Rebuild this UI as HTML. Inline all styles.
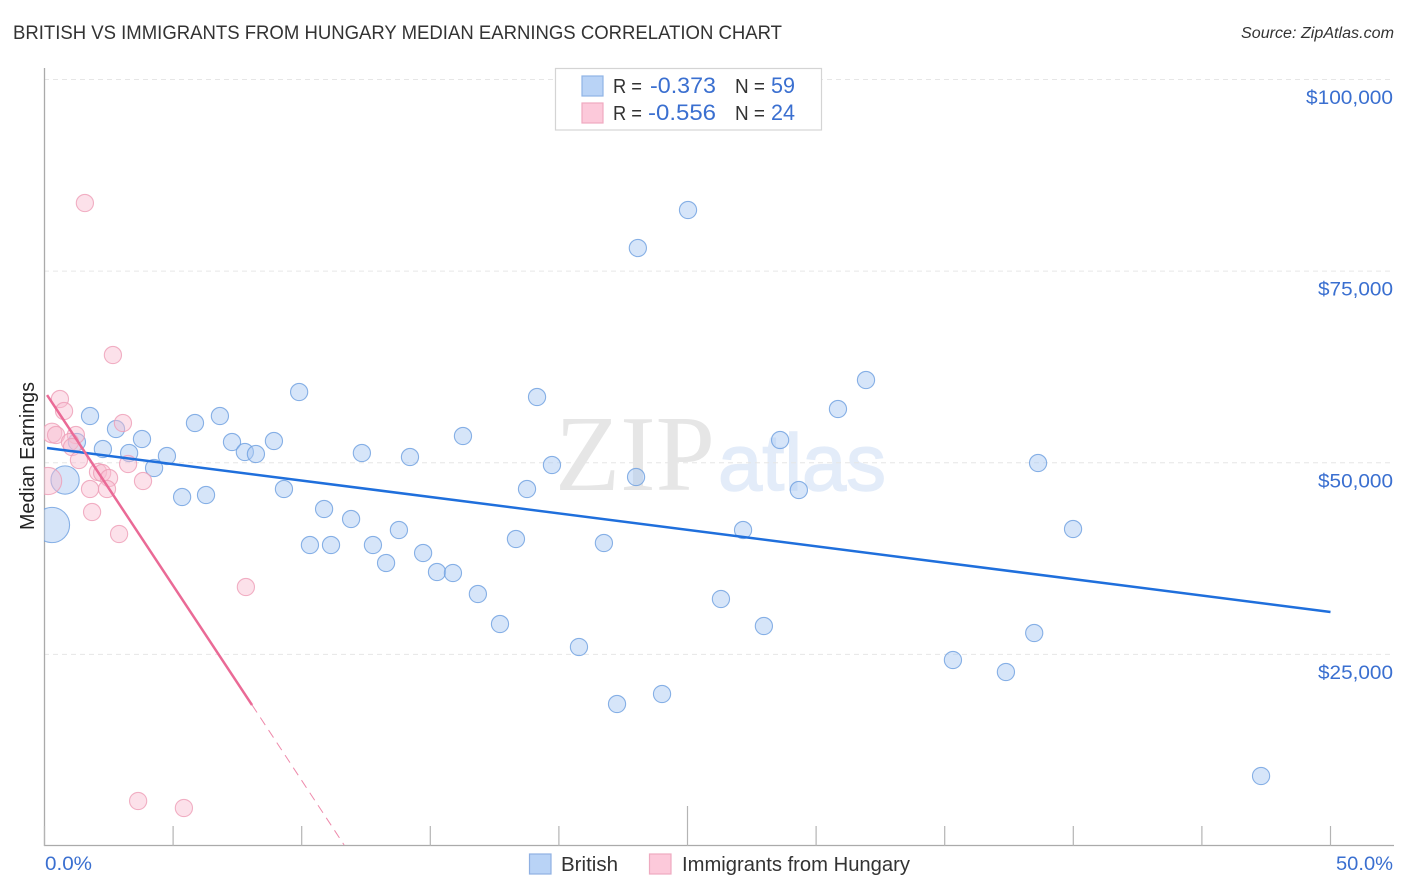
<!DOCTYPE html>
<html lang="en">
<head>
<meta charset="utf-8">
<title>British vs Immigrants from Hungary Median Earnings Correlation Chart</title>
<style>
html,body{margin:0;padding:0;background:#fff;width:1406px;height:892px;overflow:hidden}
svg{display:block;font-family:"Liberation Sans",sans-serif}
</style>
</head>
<body>
<svg id="chart" xmlns="http://www.w3.org/2000/svg" width="1406" height="892" viewBox="0 0 1406 892">
  <defs>
    <clipPath id="plot-clip"><rect x="44" y="60" width="1350" height="786"/></clipPath>
  </defs>
  <text x="13" y="39" font-size="19" fill="#333" textLength="769" lengthAdjust="spacingAndGlyphs">BRITISH VS IMMIGRANTS FROM HUNGARY MEDIAN EARNINGS CORRELATION CHART</text>
  <text x="1394" y="38" font-size="15.5" font-style="italic" fill="#333" text-anchor="end" textLength="153" lengthAdjust="spacingAndGlyphs">Source: ZipAtlas.com</text>

  <g>
    <text x="555" y="490" style="font-family:'Liberation Serif',serif" font-size="108" fill="#e6e6e6" textLength="160" lengthAdjust="spacingAndGlyphs">ZIP</text>
    <text x="718" y="490" style="font-family:'Liberation Sans',sans-serif" font-size="80" fill="#e3ecf9" stroke="#e3ecf9" stroke-width="1.5" textLength="168" lengthAdjust="spacingAndGlyphs">atlas</text>
  </g>

  <g id="grid"></g>
  <g id="axes"></g>
  <g id="marks" clip-path="url(#plot-clip)"></g>
  <g id="ylabels"></g>
  <g id="xlabels"></g>

  <text transform="translate(34,456) rotate(-90)" font-size="20" fill="#222" text-anchor="middle" textLength="148" lengthAdjust="spacingAndGlyphs">Median Earnings</text>

  <g>
    <rect x="555.5" y="68.5" width="266" height="61.5" fill="#fff" stroke="#d4d4d4" stroke-width="1.2"/>
    <rect x="582" y="76" width="21" height="20" fill="#b9d3f6" stroke="#8fb4e6" stroke-width="1.2"/>
    <rect x="582" y="103" width="21" height="20" fill="#fcc9da" stroke="#f0a9c0" stroke-width="1.2"/>
    <text x="613" y="93" font-size="20" fill="#333" textLength="29" lengthAdjust="spacingAndGlyphs">R =</text>
    <text x="650" y="93" font-size="22" fill="#3a6fd0" textLength="66" lengthAdjust="spacingAndGlyphs">-0.373</text>
    <text x="735" y="93" font-size="20" fill="#333" textLength="30" lengthAdjust="spacingAndGlyphs">N =</text>
    <text x="771" y="93" font-size="22" fill="#3a6fd0" textLength="24" lengthAdjust="spacingAndGlyphs">59</text>
    <text x="613" y="120" font-size="20" fill="#333" textLength="29" lengthAdjust="spacingAndGlyphs">R =</text>
    <text x="648" y="120" font-size="22" fill="#3a6fd0" textLength="68" lengthAdjust="spacingAndGlyphs">-0.556</text>
    <text x="735" y="120" font-size="20" fill="#333" textLength="30" lengthAdjust="spacingAndGlyphs">N =</text>
    <text x="771" y="120" font-size="22" fill="#3a6fd0" textLength="24" lengthAdjust="spacingAndGlyphs">24</text>
  </g>

  <g>
    <rect x="529.5" y="854" width="21.5" height="20" fill="#b9d3f6" stroke="#8fb0e2" stroke-width="1.2"/>
    <text x="561" y="871" font-size="20" fill="#333" textLength="57" lengthAdjust="spacingAndGlyphs">British</text>
    <rect x="649.5" y="854" width="21.5" height="20" fill="#fcc9da" stroke="#eeaac0" stroke-width="1.2"/>
    <text x="682" y="871" font-size="20" fill="#333" textLength="228" lengthAdjust="spacingAndGlyphs">Immigrants from Hungary</text>
  </g>
</svg>
<script>
// ---- chart data ----
const yTickValues = [100000, 75000, 50000, 25000];
const yTickLabels = ["$100,000", "$75,000", "$50,000", "$25,000"];
const xTickValues = [0, 5, 10, 15, 20, 25, 30, 35, 40, 45, 50];
const xEndLabels = ["0.0%", "50.0%"];

const britishPct = [0.29,0.80,1.77,1.26,2.27,2.78,3.29,3.79,4.26,4.76,5.35,5.85,6.28,6.82,7.29,7.79,8.22,8.92,9.31,9.90,10.32,10.87,11.14,11.92,12.34,12.77,13.28,13.78,14.21,14.72,15.26,15.88,16.27,16.85,17.71,18.33,18.76,19.15,19.73,20.78,21.75,22.26,23.00,23.07,24.01,25.02,26.30,27.16,27.97,28.60,29.33,30.85,31.94,35.32,37.38,38.48,38.63,39.99,47.30];
const britishEarnings = [41878,47748,56098,52706,51793,54402,51271,53097,49314,50879,45531,55185,45791,56098,52706,51401,51140,52836,46574,59229,39268,43965,39268,42660,51271,39268,36920,41225,50749,38225,35746,35616,53489,32876,28962,40051,46574,58577,49705,25962,39529,18525,48140,78015,19830,82973,32224,41225,28701,52967,46444,57011,60794,24266,22700,27788,49966,41356,9132];
const britishWeights = [4.2,2.7,1,1,1,1,1,1,1,1,1,1,1,1,1,1,1,1,1,1,1,1,1,1,1,1,1,1,1,1,1,1,1,1,1,1,1,1,1,1,1,1,1,1,1,1,1,1,1,1,1,1,1,1,1,1,1,1,1];

const hungaryPct = [0.14,1.57,2.66,0.60,0.76,0.29,0.45,1.22,0.99,1.07,1.34,3.05,3.25,2.08,2.24,2.51,1.77,2.43,1.85,3.83,2.90,7.83,3.64,5.42];
const hungaryEarnings = [47618,83886,64056,58316,56750,53880,53619,53619,52706,52054,50358,55185,49836,48792,48662,48009,46574,46574,43574,47618,40704,33789,5871,4957];
const hungaryWeights = [2.5,1,1,1,1,1.3,1,1,1,1,1,1,1,1,1,1,1,1,1,1,1,1,1,1];

const britishTrendPct = [0.1, 50];
const britishTrendEarnings = [51923, 30528];
const hungaryTrendPct = [0.1, 8.07];
const hungaryTrendEarnings = [58838, 18395];
const hungaryExtensionPct = [8.07, 11.65];
const hungaryExtensionEarnings = [18395, 130];

// ---- axis functions ----
const NS = "http://www.w3.org/2000/svg";
function xScale(p) { return 44.5 + p * 25.72; }
function yScale(v) { return 846 - v * 766.5 / 100000; }
function rScale(w) { return 8.6 * Math.sqrt(w); }
function make(tag, attrs, parent) {
  const el = document.createElementNS(NS, tag);
  for (const k in attrs) el.setAttribute(k, attrs[k]);
  parent.appendChild(el);
  return el;
}

const grid = document.getElementById("grid");
const axes = document.getElementById("axes");
const marks = document.getElementById("marks");
const ylabels = document.getElementById("ylabels");
const xlabels = document.getElementById("xlabels");

// gridlines and y labels
yTickValues.forEach(function (v, i) {
  const g = make("line", { x1: 44, x2: 1394, y1: yScale(v), y2: yScale(v), stroke: "#e6e6e6", "stroke-width": 1, "stroke-dasharray": "5 4" }, grid);
  
  
  const t = make("text", { x: 1393, y: yScale(v) + 24.5, "font-size": 19.5, fill: "#3a6fd0", "text-anchor": "end", textLength: 12 * yTickLabels[i].length - 9, lengthAdjust: "spacingAndGlyphs" }, ylabels);
  t.textContent = yTickLabels[i];
  
  
});

// axes
const yAxis = make("line", { x1: 44.5, x2: 44.5, y1: 68, y2: 846, stroke: "#aaa", "stroke-width": 1.3 }, axes);


const xAxis = make("line", { x1: 44, x2: 1394, y1: 845.5, y2: 845.5, stroke: "#aaa", "stroke-width": 1.3 }, axes);


xTickValues.forEach(function (p) {
  const top = p === 25 ? 806 : 826;
  const tick = make("line", { x1: xScale(p), x2: xScale(p), y1: top, y2: 846, stroke: "#b4b4b4", "stroke-width": 1.2 }, axes);
  
  
});

// x labels
const xl0 = make("text", { x: xScale(xTickValues[0]) + 0.5, y: 870, "font-size": 19.5, fill: "#3a6fd0", textLength: 47, lengthAdjust: "spacingAndGlyphs" }, xlabels);
xl0.textContent = xEndLabels[0];


const xl1 = make("text", { x: 1393, y: 870, "font-size": 19.5, fill: "#3a6fd0", "text-anchor": "end", textLength: 57, lengthAdjust: "spacingAndGlyphs" }, xlabels);
xl1.textContent = xEndLabels[1];



// points
britishPct.forEach(function (p, i) {
  const c = make("circle", { cx: xScale(p), cy: yScale(britishEarnings[i]), r: rScale(britishWeights[i]), fill: "#a9c9f3", "fill-opacity": 0.48, stroke: "#6d9fe0", "stroke-opacity": 0.8, "stroke-width": 1.1 }, marks);
  
  
});
hungaryPct.forEach(function (p, i) {
  const c = make("circle", { cx: xScale(p), cy: yScale(hungaryEarnings[i]), r: rScale(hungaryWeights[i]), fill: "#f9bcd0", "fill-opacity": 0.45, stroke: "#ee9db6", "stroke-opacity": 0.8, "stroke-width": 1.1 }, marks);
  
  
});

// trend lines
const bt = make("line", { x1: xScale(britishTrendPct[0]), y1: yScale(britishTrendEarnings[0]), x2: xScale(britishTrendPct[1]), y2: yScale(britishTrendEarnings[1]), stroke: "#1f6fdc", "stroke-width": 2.5 }, marks);


const ht = make("line", { x1: xScale(hungaryTrendPct[0]), y1: yScale(hungaryTrendEarnings[0]), x2: xScale(hungaryTrendPct[1]), y2: yScale(hungaryTrendEarnings[1]), stroke: "#ea6a96", "stroke-width": 2.5 }, marks);


const he = make("line", { x1: xScale(hungaryExtensionPct[0]), y1: yScale(hungaryExtensionEarnings[0]), x2: xScale(hungaryExtensionPct[1]), y2: yScale(hungaryExtensionEarnings[1]), stroke: "#ee8aab", "stroke-width": 1, "stroke-dasharray": "9 6" }, marks);


</script>
</body>
</html>
